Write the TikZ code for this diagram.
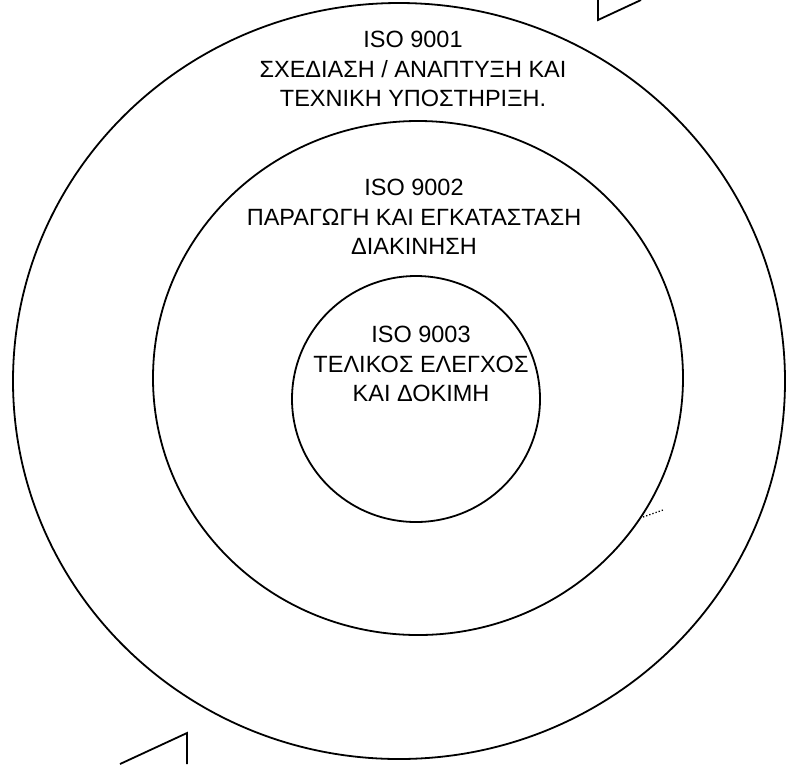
\documentclass[tikz,border=0pt]{standalone}
\usepackage{fontspec}
\setmainfont{Liberation Sans}
\usepackage{tikz}
\usetikzlibrary{positioning}

\begin{document}
\begin{tikzpicture}[x=1pt, y=-1pt,
    ring/.style={draw=black, line width=1.8pt},
    remnant/.style={draw=black, line width=1.8pt, line join=miter},
    lbl/.style={align=center, inner sep=0pt,
      font=\fontsize{23.5}{29.5}\selectfont}]
  \useasboundingbox (0,0) rectangle (786,764);

  % three rings
  \draw[ring] (399,381) ellipse [x radius=386, y radius=378];
  \draw[ring] (418,378) ellipse [x radius=265, y radius=257];
  \draw[ring] (416,399) ellipse [x radius=124, y radius=123];

  % texts
  \node[lbl] (iso1) at (413,69) {ISO 9001\\ΣΧΕΔΙΑΣΗ / ΑΝΑΠΤΥΞΗ ΚΑΙ\\ΤΕΧΝΙΚΗ ΥΠΟΣΤΗΡΙΞΗ.};
  \node[lbl] (iso2) at (414,217) {ISO 9002\\ΠΑΡΑΓΩΓΗ ΚΑΙ ΕΓΚΑΤΑΣΤΑΣΗ\\ΔΙΑΚΙΝΗΣΗ};
  \node[lbl] (iso3) at (421,364) {ISO 9003\\ΤΕΛΙΚΟΣ ΕΛΕΓΧΟΣ\\ΚΑΙ ΔΟΚΙΜΗ};

  % arrow remnants at the corners
  \draw[remnant] (598,0) -- (598,20) -- (641,0);
  \draw[remnant] (120,764) -- (187,733) -- (187,764);
  \draw[line width=1.3pt, dotted] (643,517) -- (663,510);
\end{tikzpicture}
\end{document}
